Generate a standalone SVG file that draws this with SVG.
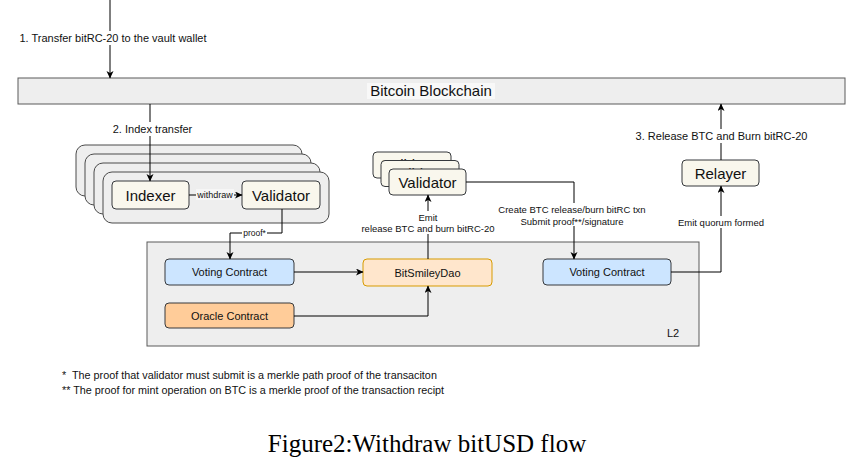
<svg xmlns="http://www.w3.org/2000/svg" width="855" height="474" viewBox="0 0 855 474">
<defs>
<marker id="arr" markerWidth="8" markerHeight="8" refX="7" refY="3.5" orient="auto" markerUnits="userSpaceOnUse">
<path d="M0,0 L7.5,3.5 L0,7 L2,3.5 z" fill="#000"/>
</marker>
<clipPath id="clip1"><rect x="373" y="150" width="80" height="10.5"/></clipPath>
<clipPath id="clip2"><rect x="381" y="158" width="80" height="11"/></clipPath>
<style>
text{font-family:"Liberation Sans",Arial,Helvetica,sans-serif;fill:#111}
.stack{fill:#eeeeee;stroke:#4a4a4a;stroke-width:1}
.node{fill:#f9f7ed;stroke:#36393d;stroke-width:1}
.big{font-size:15px;text-anchor:middle}
.mid{font-size:11px;text-anchor:middle}
.sm{font-size:9.5px;text-anchor:middle}
.xs{font-size:8.5px;text-anchor:middle}
.lbl{font-size:11px;text-anchor:middle}
.bg{fill:#ffffff}
.edge{fill:none;stroke:#000;stroke-width:1}
.foot{font-size:10.8px}
</style>
</defs>
<rect width="855" height="474" fill="#ffffff"/>

<g id="bitcoin-blockchain">
<rect x="18" y="78" width="827" height="26" fill="#eeeeee" stroke="#5a5a5a"/>
<rect x="367" y="83" width="128" height="16" fill="#f8f8f8"/>
<text x="431" y="96" class="big">Bitcoin Blockchain</text>
</g>

<g id="l2">
<rect x="147" y="242" width="552" height="104" fill="#eeeeee" stroke="#5a5a5a"/>
<text x="673" y="337" class="mid">L2</text>
</g>

<g id="indexer-stack">
<rect x="76" y="145" width="226" height="51" rx="9" class="stack"/>
<rect x="85" y="154" width="226" height="51" rx="9" class="stack"/>
<rect x="94" y="163" width="226" height="51" rx="9" class="stack"/>
<rect x="103" y="172" width="226" height="51" rx="9" class="stack"/>
</g>

<g id="indexer">
<rect x="112" y="181" width="77" height="28" rx="4" class="node"/>
<text x="150.5" y="200.5" class="big">Indexer</text>
</g>

<g id="validator-left">
<rect x="242" y="181" width="78" height="28" rx="4" class="node"/>
<text x="281" y="200.5" class="big">Validator</text>
</g>

<g id="validator-stack">
<rect x="373" y="152" width="78" height="26" rx="4" class="node"/>
<text x="412" y="170" class="big" clip-path="url(#clip1)">Validator</text>
<rect x="381" y="160.5" width="78" height="26" rx="4" class="node"/>
<text x="420" y="178.5" class="big" clip-path="url(#clip2)">Validator</text>
<rect x="389" y="169" width="77" height="26" rx="4" class="node"/>
<text x="427.5" y="187.5" class="big">Validator</text>
</g>

<g id="relayer">
<rect x="682" y="160" width="77" height="26" rx="4" class="node"/>
<text x="720.5" y="178.5" class="big">Relayer</text>
</g>

<g id="voting-contract-left">
<rect x="165" y="259" width="129" height="26" rx="4" fill="#cce5ff" stroke="#36393d"/>
<text x="229.5" y="276" class="lbl">Voting Contract</text>
</g>

<g id="oracle-contract">
<rect x="165" y="303" width="129" height="25" rx="4" fill="#ffcc99" stroke="#36393d"/>
<text x="229.5" y="319.5" class="lbl">Oracle Contract</text>
</g>

<g id="bitsmileydao">
<rect x="363" y="259" width="129" height="27" rx="4" fill="#ffe6cc" stroke="#d79b00"/>
<text x="427.5" y="276.5" class="lbl">BitSmileyDao</text>
</g>

<g id="voting-contract-right">
<rect x="543" y="259" width="128" height="26" rx="4" fill="#cce5ff" stroke="#36393d"/>
<text x="607" y="276" class="lbl">Voting Contract</text>
</g>

<g id="connectors">
<path d="M110,0 V78" class="edge" marker-end="url(#arr)"/>
<rect x="16" y="31" width="194" height="14" class="bg"/>
<text x="113" y="42" class="lbl">1. Transfer bitRC-20 to the vault wallet</text>

<path d="M150,104 V181" class="edge" marker-end="url(#arr)"/>
<rect x="110" y="122" width="86" height="14" class="bg"/>
<text x="152.5" y="133" class="lbl">2. Index transfer</text>

<path d="M189,195 H242" class="edge" marker-end="url(#arr)"/>
<rect x="196" y="189" width="38" height="11" fill="#f6f6f6"/>
<text x="215" y="198" class="xs" style="font-size:9px">withdraw</text>

<path d="M282,209 V233 H230 V259" class="edge" marker-end="url(#arr)"/>
<rect x="242" y="228" width="25" height="10" class="bg"/>
<text x="254.5" y="236" class="xs">proof*</text>

<path d="M294,272 H363" class="edge" marker-end="url(#arr)"/>
<path d="M294,316 H428 V286" class="edge" marker-end="url(#arr)"/>

<path d="M428,259 V195" class="edge" marker-end="url(#arr)"/>
<rect x="361" y="211" width="134" height="23" class="bg"/>
<text x="428" y="220.5" class="sm">Emit</text>
<text x="428" y="232" class="sm">release BTC and burn bitRC-20</text>

<path d="M466,182 H574 V259" class="edge" marker-end="url(#arr)"/>
<rect x="497" y="203" width="150" height="23" class="bg"/>
<text x="572" y="213" class="sm">Create BTC release/burn bitRC txn</text>
<text x="572" y="224.5" class="sm">Submit proof**/signature</text>

<path d="M671,272 H721 V186" class="edge" marker-end="url(#arr)"/>
<rect x="677" y="216" width="89" height="12" class="bg"/>
<text x="721" y="225.5" class="sm">Emit quorum formed</text>

<path d="M721,160 V104" class="edge" marker-end="url(#arr)"/>
<rect x="632" y="129" width="179" height="14" class="bg"/>
<text x="721.5" y="140" class="lbl">3. Release BTC and Burn bitRC-20</text>
</g>

<g id="footnotes">
<text x="62" y="379" class="foot" xml:space="preserve">*  The proof that validator must submit is a merkle path proof of the transaciton</text>
<text x="62" y="394" class="foot">** The proof for mint operation on BTC is a merkle proof of the transaction recipt</text>
</g>

<g id="caption">
<text x="427" y="452" style="font-family:'Liberation Serif','Times New Roman',serif;font-size:25px;text-anchor:middle;fill:#000">Figure2:Withdraw bitUSD flow</text>
</g>
</svg>
